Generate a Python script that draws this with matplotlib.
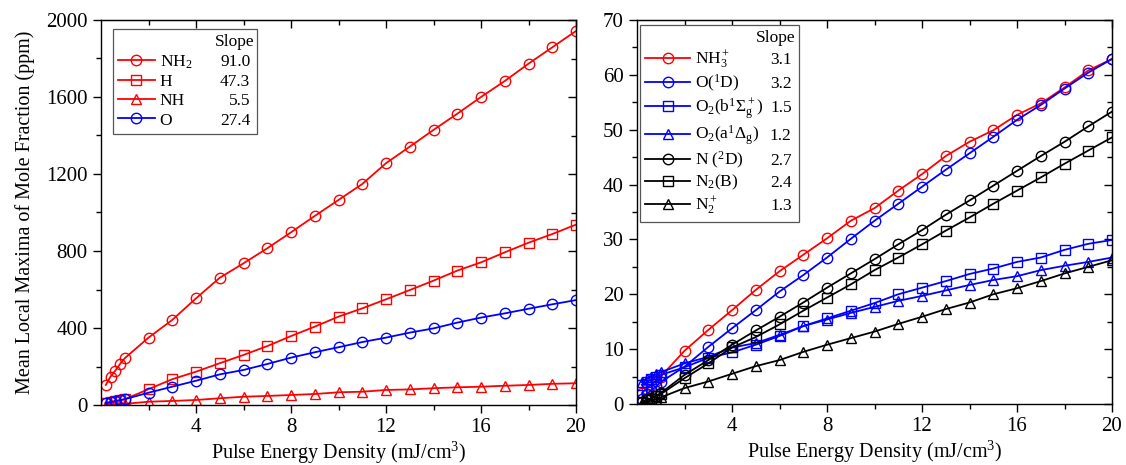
import numpy as np
import matplotlib
matplotlib.use("Agg")
import matplotlib.pyplot as plt
from matplotlib.lines import Line2D
from matplotlib.patches import Rectangle

plt.rcParams["font.family"] = ["Liberation Serif", "DejaVu Serif"]
plt.rcParams["mathtext.fontset"] = "custom"
plt.rcParams["mathtext.rm"] = "Liberation Serif"
plt.rcParams["mathtext.it"] = "Liberation Serif:italic"
plt.rcParams["mathtext.default"] = "regular"

# pulse energy density (mJ/cm^3)
energy = [0.2, 0.4, 0.6, 0.8, 1.0, 2, 3, 4, 5, 6, 7, 8, 9, 10, 11, 12,
          13, 14, 15, 16, 17, 18, 19, 20]

# left panel (ppm)
nh2 = [104, 147, 178, 213, 243, 350, 442, 554, 661, 736, 814, 897,
       982, 1065, 1148, 1256, 1342, 1429, 1513, 1600, 1683, 1773, 1858, 1943]
h = [10, 15, 20, 25, 30, 82, 134, 173, 217, 260, 306, 358,
     407, 459, 502, 549, 597, 646, 698, 741, 793, 843, 888, 937]
nh = [2, 3, 4, 5, 6, 17, 21, 26, 35, 43, 47, 52,
      57, 66, 69, 78, 81, 87, 92, 95, 100, 104, 110, 113]
o = [10, 15, 20, 25, 30, 64, 95, 126, 159, 182, 213, 246,
     274, 300, 327, 350, 376, 398, 428, 454, 476, 500, 523, 545]

left_names = [r"NH$_2$", "H", "NH", "O"]
left_slopes = ["91.0", "47.3", "5.5", "27.4"]

# right panel (ppm)
nh3p = [2.0, 2.8, 3.5, 4.2, 5.0, 9.7, 13.5, 17.1, 20.8, 24.2, 27.2, 30.2,
        33.4, 35.7, 38.9, 41.9, 45.2, 47.8, 49.9, 52.7, 54.8, 57.7, 60.8, 62.9]
o1d = [1.0, 1.8, 2.5, 3.2, 4.0, 6.8, 10.4, 13.8, 17.1, 20.5, 23.5, 26.7,
       30.1, 33.4, 36.5, 39.6, 42.7, 45.7, 48.7, 51.8, 54.5, 57.5, 60.4, 62.9]
o2b = [3.5, 4.0, 4.5, 5.0, 5.3, 6.7, 8.4, 9.4, 10.8, 12.4, 14.2, 15.6,
       17.0, 18.4, 20.0, 21.2, 22.4, 23.7, 24.7, 25.9, 26.7, 28.1, 29.2, 29.9]
o2a = [4.0, 4.6, 5.0, 5.4, 5.8, 7.4, 8.6, 10.3, 11.1, 12.6, 14.2, 15.4,
       16.6, 17.7, 18.8, 19.7, 20.7, 21.7, 22.6, 23.3, 24.4, 25.2, 25.9, 26.7]
n2d = [0.3, 0.7, 1.1, 1.5, 2.0, 5.3, 8.0, 10.8, 13.4, 15.9, 18.5, 21.2,
       23.8, 26.4, 29.1, 31.7, 34.5, 37.1, 39.8, 42.5, 45.2, 47.8, 50.6, 53.3]
n2b = [0.3, 0.7, 1.0, 1.4, 1.8, 4.7, 7.4, 10.3, 12.2, 14.5, 17.0, 19.4,
       21.8, 24.4, 26.7, 29.1, 31.6, 34.0, 36.5, 38.9, 41.3, 43.8, 46.2, 48.6]
n2p = [0.2, 0.4, 0.6, 0.9, 1.2, 2.9, 4.1, 5.5, 6.9, 8.0, 9.5, 10.8,
       12.0, 13.2, 14.6, 15.9, 17.3, 18.5, 20.0, 21.1, 22.4, 23.8, 25.0, 26.2]

right_names = [r"NH$_3^+$", r"O($^1$D)", r"O$_2$(b$^1\Sigma_g^+$)",
               r"O$_2$(a$^1\Delta_g$)", r"N ($^2$D)", r"N$_2$(B)", r"N$_2^+$"]
right_slopes = ["3.1", "3.2", "1.5", "1.2", "2.7", "2.4", "1.3"]

RED, BLUE, BLACK = "#ff0000", "#0000ff", "#000000"


def series(ax, y, color, marker):
    ms = 6.5 if marker == "s" else 7.5
    line, = ax.plot(energy, y, color=color, marker=marker, ms=ms, mfc="none",
                    mec=color, mew=1.0, lw=1.3)
    return line


def style_axes(ax, ymax, ymajor, yminor):
    ax.set_xlim(0, 20)
    ax.set_ylim(0, ymax)
    xmaj = [4, 8, 12, 16, 20]
    xmin = [2, 6, 10, 14, 18]
    ymaj = np.arange(0, ymax + 1, ymajor)
    ymin = np.arange(0, ymax + 1, yminor)
    ax.set_xticks(xmaj)
    ax.set_xticks(xmin, minor=True)
    ax.set_yticks(ymaj)
    ax.set_yticks(ymin, minor=True)
    ax.tick_params(which="both", direction="out", labelsize=15, width=1)
    ax.tick_params(which="major", length=6)
    ax.tick_params(which="minor", length=3.5)
    for s in ax.spines.values():
        s.set_linewidth(1.0)

    top = ax.secondary_xaxis("top")
    top.set_xticks(xmaj, labels=[])
    top.set_xticks(xmin, minor=True)
    top.tick_params(which="both", direction="in", width=1)
    top.tick_params(which="major", length=6)
    top.tick_params(which="minor", length=3.5)
    right = ax.secondary_yaxis("right")
    right.set_yticks(ymaj, labels=[])
    right.set_yticks(ymin, minor=True)
    right.tick_params(which="both", direction="in", width=1)
    right.tick_params(which="major", length=6)
    right.tick_params(which="minor", length=3.5)


def slope_legend(fig, ax, lines, names, slopes, anchor, gap, spacing, hl):
    blank = Line2D([], [], linestyle="none")
    leg = ax.legend([blank] + lines, [" "] + names, loc="upper left",
                    bbox_to_anchor=anchor, frameon=False, fontsize=12.5,
                    handlelength=hl, handletextpad=0.3, borderpad=0.3,
                    labelspacing=spacing, borderaxespad=0)
    leg.set_zorder(6)
    fig.canvas.draw()
    r = fig.canvas.get_renderer()
    texts = leg.get_texts()
    name_right = max(t.get_window_extent(r).x1 for t in texts[1:])
    xr = name_right + gap
    inv = ax.transAxes.inverted()
    boxes = [leg.get_window_extent(r)]
    for i, t in enumerate(texts):
        bx, by = t.get_transform().transform(t.get_position())
        label = "Slope" if i == 0 else slopes[i - 1]
        xa, ya = inv.transform((xr + (4 if i == 0 else 0), by))
        tt = ax.text(xa, ya, label, transform=ax.transAxes, ha="right",
                     va="baseline", fontsize=12.5, zorder=7)
        boxes.append(tt.get_window_extent(r))
    x0 = min(b.x0 for b in boxes)
    y0 = min(b.y0 for b in boxes)
    x1 = max(b.x1 for b in boxes) + 3
    y1 = max(b.y1 for b in boxes)
    (ax0, ay0), (ax1, ay1) = inv.transform([(x0, y0), (x1, y1)])
    ax.add_patch(Rectangle((ax0, ay0), ax1 - ax0, ay1 - ay0,
                           transform=ax.transAxes, facecolor="white",
                           edgecolor="#555555", lw=0.9, zorder=5))


fig = plt.figure(figsize=(11.26, 4.65), dpi=100)
ax1 = fig.add_axes([101 / 1126, 60 / 465, 475 / 1126, 385 / 465])
ax2 = fig.add_axes([637 / 1126, 61 / 465, 475 / 1126, 384 / 465])

left_lines = [series(ax1, nh2, RED, "o"), series(ax1, h, RED, "s"),
              series(ax1, nh, RED, "^"), series(ax1, o, BLUE, "o")]
style_axes(ax1, 2000, 400, 200)
ax1.set_xlabel("Pulse Energy Density (mJ/cm$^3$)", fontsize=14.5, labelpad=2)
ax1.set_ylabel("Mean Local Maxima of Mole Fraction (ppm)", fontsize=14.5,
               labelpad=8)

right_lines = [series(ax2, nh3p, RED, "o"), series(ax2, o1d, BLUE, "o"),
               series(ax2, o2b, BLUE, "s"), series(ax2, o2a, BLUE, "^"),
               series(ax2, n2d, BLACK, "o"), series(ax2, n2b, BLACK, "s"),
               series(ax2, n2p, BLACK, "^")]
style_axes(ax2, 70, 10, 5)
ax2.set_xlabel("Pulse Energy Density (mJ/cm$^3$)", fontsize=14.5, labelpad=2)

slope_legend(fig, ax1, left_lines, left_names, left_slopes,
             (0.025, 0.977), 58, 0.18, 2.1)
slope_legend(fig, ax2, right_lines, right_names, right_slopes,
             (0.006, 0.987), 28, 0.13, 2.6)

fig.savefig("out.png", dpi=100)
